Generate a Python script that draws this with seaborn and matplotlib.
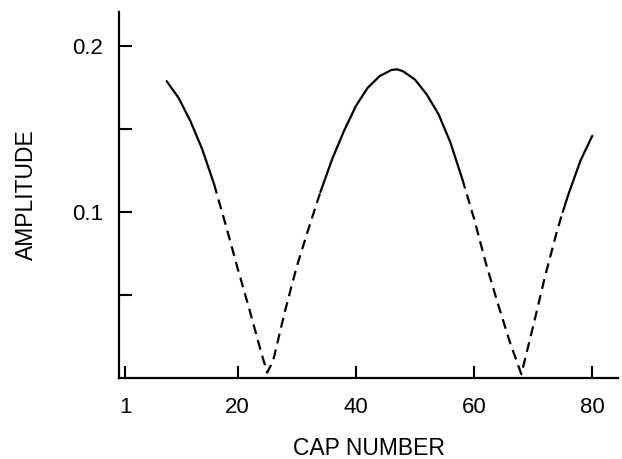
import matplotlib
matplotlib.use("Agg")
import matplotlib.pyplot as plt
import seaborn as sns

# amplitude vs cap number; solid / dashed pieces
seg1_x = [8, 10, 12, 14, 16]
seg1_y = [0.179, 0.169, 0.155, 0.138, 0.117]

seg2_x = [16, 18, 20, 22, 24, 25, 26, 28, 30, 32, 34]
seg2_y = [0.117, 0.092, 0.066, 0.041, 0.015, 0.003, 0.010, 0.040, 0.067, 0.090, 0.112]

seg3_x = [34, 36, 38, 40, 42, 44, 46, 47, 48, 50, 52, 54, 56, 58]
seg3_y = [0.112, 0.132, 0.149, 0.164, 0.175, 0.182, 0.1858, 0.1862, 0.185, 0.180, 0.171, 0.159, 0.142, 0.120]

seg4_x = [58, 60, 62, 64, 66, 68, 70, 72, 74, 75]
seg4_y = [0.120, 0.096, 0.069, 0.045, 0.022, 0.002, 0.031, 0.061, 0.088, 0.100]

seg5_x = [75, 76, 78, 80]
seg5_y = [0.100, 0.111, 0.131, 0.146]

segments = [
    (seg1_x, seg1_y, "solid"),
    (seg2_x, seg2_y, "dashed"),
    (seg3_x, seg3_y, "solid"),
    (seg4_x, seg4_y, "dashed"),
    (seg5_x, seg5_y, "solid"),
]

x_ticks = [1, 20, 40, 60, 80]
y_ticks = [0.05, 0.1, 0.15, 0.2]
y_tick_labels = ["", "0.1", "", "0.2"]

sns.set_style("ticks")
plt.rcParams["font.family"] = ["Liberation Sans", "DejaVu Sans"]

fig = plt.figure(figsize=(6.22, 4.59), dpi=100)
ax = fig.add_axes([0.192, 0.1775, 0.802, 0.797])

for xs, ys, style in segments:
    if style == "solid":
        sns.lineplot(x=xs, y=ys, ax=ax, color="black", linewidth=1.6, sort=False)
    else:
        sns.lineplot(x=xs, y=ys, ax=ax, color="black", linewidth=1.6, sort=False,
                     linestyle=(0, (4.5, 2.8)))

ax.set_xlim(0, 84.4)
ax.set_ylim(0, 0.221)
ax.set_xticks(x_ticks)
ax.set_xticklabels([str(v) for v in x_ticks])
ax.set_yticks(y_ticks)
ax.set_yticklabels(y_tick_labels)

ax.tick_params(axis="both", direction="in", length=9, width=1.5, colors="black",
               labelcolor="black", labelsize=16)
ax.tick_params(axis="x", pad=14)
ax.tick_params(axis="y", pad=12)

for side in ["top", "right"]:
    ax.spines[side].set_visible(False)
for side in ["left", "bottom"]:
    ax.spines[side].set_linewidth(1.6)
    ax.spines[side].set_color("black")

ax.set_xlabel("CAP NUMBER", fontsize=16.5, labelpad=13.5, color="black")
ax.set_ylabel("AMPLITUDE", fontsize=16.5, labelpad=24, color="black")

fig.savefig("out.png", dpi=100)
